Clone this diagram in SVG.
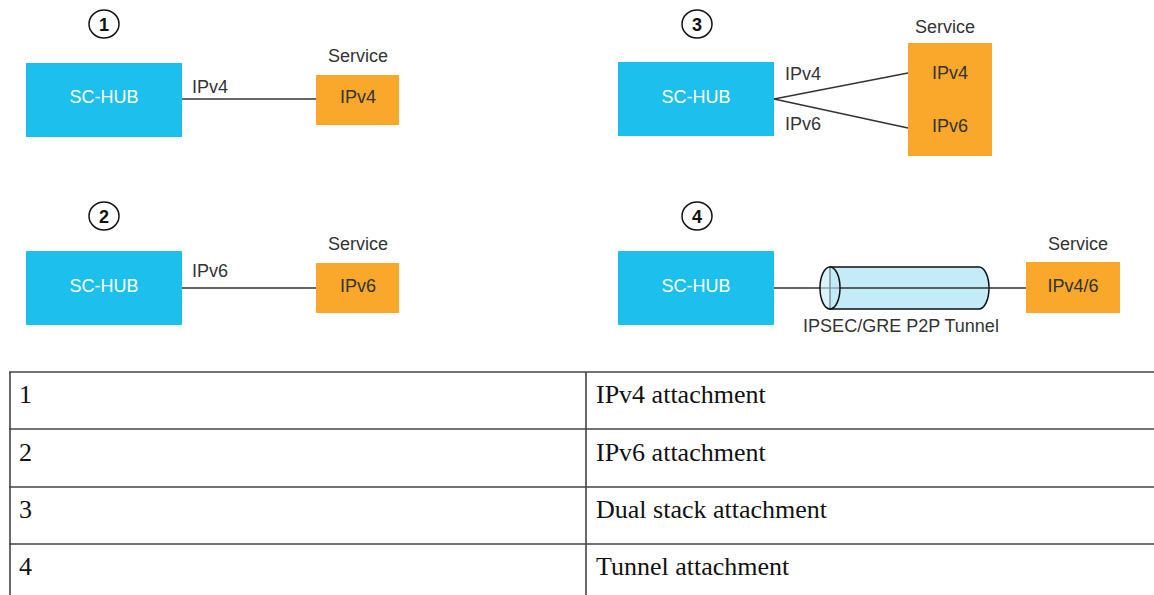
<svg xmlns="http://www.w3.org/2000/svg" width="1154" height="595" viewBox="0 0 1154 595">
<style>
.hub{fill:#1dbfed}
.svc{fill:#f9a82b}
.ht{font-family:"Liberation Sans",Arial,sans-serif;font-size:18px;fill:#ffffff;text-anchor:middle}
.st{font-family:"Liberation Sans",Arial,sans-serif;font-size:18px;fill:#333333;text-anchor:middle}
.lt{font-family:"Liberation Sans",Arial,sans-serif;font-size:18px;fill:#333333}
.num{fill:#ffffff;stroke:#111;stroke-width:1.5}
.nt{font-family:"Liberation Sans",Arial,sans-serif;font-size:18px;font-weight:bold;fill:#111;text-anchor:middle}
.ln{stroke:#333;stroke-width:1.6;fill:none}
.tb{stroke:#444;stroke-width:1.6;fill:none}
.tt{font-family:"Liberation Serif","Times New Roman",serif;font-size:26px;fill:#111}
</style>
<rect width="1154" height="595" fill="#ffffff"/>

<g id="connectors">
<line class="ln" x1="182" y1="99" x2="316" y2="99"/>
<line class="ln" x1="182" y1="288" x2="316" y2="288"/>
<line class="ln" x1="774" y1="99" x2="908" y2="73"/>
<line class="ln" x1="774" y1="99" x2="908" y2="128"/>
<line class="ln" x1="774" y1="288" x2="1027" y2="288"/>
</g>

<g id="panel1">
<ellipse class="num" cx="104" cy="24" rx="15" ry="14"/>
<text class="nt" x="104" y="30.5">1</text>
<g id="hub1"><rect class="hub" x="26" y="63" width="156" height="74"/><text class="ht" x="104" y="103">SC-HUB</text></g>
<text class="lt" x="192" y="93">IPv4</text>
<g id="svc1"><text class="st" x="358" y="62">Service</text><rect class="svc" x="316" y="75" width="83" height="50"/><text class="st" x="358" y="103">IPv4</text></g>
</g>

<g id="panel2">
<ellipse class="num" cx="104" cy="216" rx="15" ry="14"/>
<text class="nt" x="104" y="222.5">2</text>
<g id="hub2"><rect class="hub" x="26" y="251" width="156" height="74"/><text class="ht" x="104" y="292">SC-HUB</text></g>
<text class="lt" x="192" y="277">IPv6</text>
<g id="svc2"><text class="st" x="358" y="250">Service</text><rect class="svc" x="316" y="263" width="83" height="50"/><text class="st" x="358" y="292">IPv6</text></g>
</g>

<g id="panel3">
<ellipse class="num" cx="697" cy="24" rx="15" ry="14"/>
<text class="nt" x="697" y="30.5">3</text>
<g id="hub3"><rect class="hub" x="618" y="62" width="156" height="74"/><text class="ht" x="696" y="103">SC-HUB</text></g>
<text class="lt" x="785" y="80">IPv4</text>
<text class="lt" x="785" y="130">IPv6</text>
<g id="svc3"><text class="st" x="945" y="33">Service</text><rect class="svc" x="908" y="43" width="84" height="113"/><text class="st" x="950" y="79">IPv4</text><text class="st" x="950" y="132">IPv6</text></g>
</g>

<g id="panel4">
<ellipse class="num" cx="697" cy="216" rx="15" ry="14"/>
<text class="nt" x="697" y="222.5">4</text>
<g id="hub4"><rect class="hub" x="618" y="251" width="156" height="74"/><text class="ht" x="696" y="292">SC-HUB</text></g>
<g id="tunnel">
<path d="M830,267 L979,267 A10,21 0 0 1 979,309 L830,309 Z" fill="#c4ebf8" stroke="#111" stroke-width="1.5"/>
<line class="ln" x1="830" y1="288" x2="989" y2="288"/>
<ellipse cx="830" cy="288" rx="10" ry="21" fill="#c4ebf8" fill-opacity="0.6" stroke="#111" stroke-width="1.5"/>
<text class="st" x="901" y="332">IPSEC/GRE P2P Tunnel</text>
</g>
<g id="svc4"><text class="st" x="1078" y="250">Service</text><rect class="svc" x="1026" y="262" width="94" height="51"/><text class="st" x="1073" y="292">IPv4/6</text></g>
</g>

<g id="table">
<line class="tb" x1="9" y1="372" x2="1154" y2="372"/>
<line class="tb" x1="9" y1="429" x2="1154" y2="429"/>
<line class="tb" x1="9" y1="487" x2="1154" y2="487"/>
<line class="tb" x1="9" y1="544" x2="1154" y2="544"/>
<line class="tb" x1="10" y1="372" x2="10" y2="595"/>
<line class="tb" x1="586" y1="372" x2="586" y2="595"/>
<text class="tt" x="19" y="403">1</text>
<text class="tt" x="596" y="403">IPv4 attachment</text>
<text class="tt" x="19" y="461">2</text>
<text class="tt" x="596" y="461">IPv6 attachment</text>
<text class="tt" x="19" y="518">3</text>
<text class="tt" x="596" y="518">Dual stack attachment</text>
<text class="tt" x="19" y="575">4</text>
<text class="tt" x="596" y="575">Tunnel attachment</text>
</g>
</svg>
